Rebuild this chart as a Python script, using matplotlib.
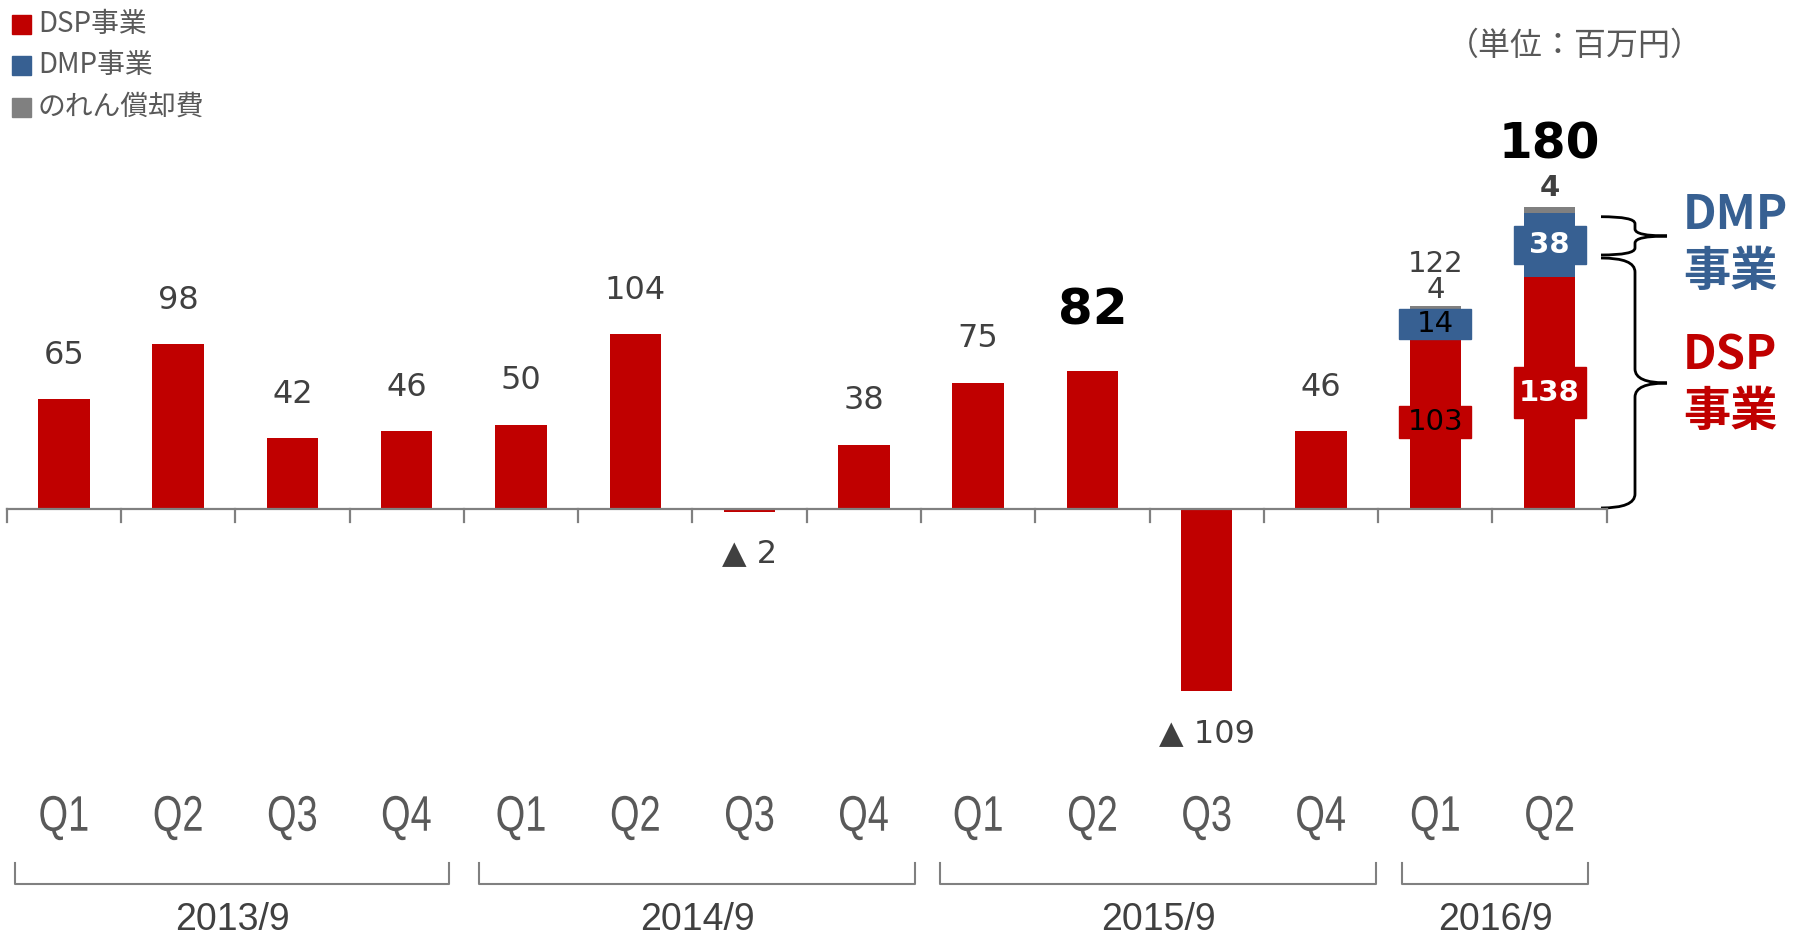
import matplotlib.pyplot as plt
from matplotlib.patches import Rectangle, PathPatch
from matplotlib.path import Path
from matplotlib.textpath import TextPath
from matplotlib.font_manager import FontProperties
from matplotlib.transforms import Affine2D, IdentityTransform

plt.rcParams['font.family'] = ['DejaVu Sans', 'Noto Sans CJK JP']

quarters = ["Q1", "Q2", "Q3", "Q4"] * 3 + ["Q1", "Q2"]
years = ["2013/9", "2014/9", "2015/9", "2016/9"]
dsp = [65, 98, 42, 46, 50, 104, -2, 38, 75, 82, -109, 46, 103, 138]
dmp = [0] * 12 + [14, 38]
goodwill = [0] * 12 + [4, 4]
totals = [65, 98, 42, 46, 50, 104, -2, 38, 75, 82, -109, 46, 122, 180]
legend_names = ["DSP事業", "DMP事業", "のれん償却費"]

RED = "#C00000"
BLUE = "#376092"
GREY = "#808080"
TXT = "#404040"
JP = ['Noto Sans CJK JP', 'DejaVu Sans']

# pixel -> data helpers (figure is 1798x936 px)
W, H = 1798, 936
PX, X0 = 114.29, 6.7
PY, Y0 = 1.677, 508.5


def dx(px):
    return (px - X0) / PX - 0.5


def dy(py):
    return (Y0 - py) / PY


fig = plt.figure(figsize=(W / 100, H / 100), dpi=100)
ax = fig.add_axes([0, 0, 1, 1])
ax.set_xlim(dx(0), dx(W))
ax.set_ylim(dy(H), dy(0))
ax.axis('off')

n = len(dsp)
x = list(range(n))
w = 0.45
ax.bar(x, dsp, w, color=RED, zorder=2)
ax.bar(x, dmp, w, bottom=dsp, color=BLUE, zorder=2)
stack = [a + b for a, b in zip(dsp, dmp)]
ax.bar(x, goodwill, w, bottom=stack, color=GREY, zorder=2)
tops = [a + b for a, b in zip(stack, goodwill)]

# axis line and ticks
ax.plot([-0.5, n - 0.5], [0, 0], color=GREY, lw=1.6, zorder=3)
for i in range(n + 1):
    ax.plot([i - 0.5, i - 0.5], [0, -13 / PY], color=GREY, lw=1.6, zorder=3)

# value labels for single bars
for i in range(12):
    v = dsp[i]
    if v < 0:
        ax.annotate("▲ " + str(abs(v)), (i, v), xytext=(0, -42), textcoords='offset pixels',
                    ha='center', va='center', fontsize=23, color=TXT)
    elif i == 9:
        ax.annotate(str(v), (i, v), xytext=(0, 60), textcoords='offset pixels',
                    ha='center', va='center', fontsize=36, fontweight='bold', color='black')
    else:
        ax.annotate(str(v), (i, v), xytext=(0, 44), textcoords='offset pixels',
                    ha='center', va='center', fontsize=23, color=TXT)

# stacked bars labels
bw = 72 / PX
for i, h1, h2, col, bold in [(12, 30, 32, 'black', 'normal'), (13, 38, 51, 'white', 'bold')]:
    yc = dsp[i] + dmp[i] / 2
    ax.add_patch(Rectangle((i - bw / 2, yc - h1 / PY / 2), bw, h1 / PY, color=BLUE, zorder=4))
    ax.text(i, yc, str(dmp[i]), ha='center', va='center', fontsize=21, color=col,
            fontweight=bold, zorder=5)
    yc = dsp[i] / 2
    ax.add_patch(Rectangle((i - bw / 2, yc - h2 / PY / 2), bw, h2 / PY, color=RED, zorder=4))
    ax.text(i, yc, str(dsp[i]), ha='center', va='center', fontsize=21, color=col,
            fontweight=bold, zorder=5)

ax.annotate(str(goodwill[12]), (12, tops[12]), xytext=(0, 16), textcoords='offset pixels',
            ha='center', va='center', fontsize=21, color=TXT)
ax.annotate(str(totals[12]), (12, tops[12]), xytext=(0, 42), textcoords='offset pixels',
            ha='center', va='center', fontsize=21, color=TXT)
ax.annotate(str(goodwill[13]), (13, tops[13]), xytext=(0, 19), textcoords='offset pixels',
            ha='center', va='center', fontsize=21, color=TXT, fontweight='bold')
ax.annotate(str(totals[13]), (13, tops[13]), xytext=(0, 62), textcoords='offset pixels',
            ha='center', va='center', fontsize=35, color='black', fontweight='bold')

# quarter labels: narrow sans, drawn as squeezed text paths
qfont = FontProperties(family='Liberation Sans')
for i, q in enumerate(quarters):
    tp = TextPath((0, 0), q, size=50, prop=qfont)
    ext = tp.get_extents()
    px_, py_ = ax.transData.transform((i, dy(818)))
    tr = (Affine2D().translate(-(ext.x0 + ext.x1) / 2, -(ext.y0 + ext.y1) / 2)
          .scale(0.76, 1).translate(px_, py_))
    ax.add_patch(PathPatch(tr.transform_path(tp), transform=IdentityTransform(),
                           color="#595959", lw=0))

# year brackets
spans = [(15, 449), (479, 915), (940, 1376), (1402, 1588)]
for (a, b), yr in zip(spans, years):
    ax.plot([dx(a), dx(a), dx(b), dx(b)], [dy(863), dy(884), dy(884), dy(863)],
            color=GREY, lw=1.5)
    ax.text((dx(a) + dx(b)) / 2, dy(920), yr, ha='center', va='center', fontsize=27,
            color=TXT, family='Liberation Sans')


# curly braces on the right
def brace(yt, yb, ym, x0=1601, xm=1635, xt=1667, r=10):
    pts = [(x0, yt), (xm, yt), (xm, yt + r), (xm, ym - r), (xm, ym), (xt, ym),
           (xm, ym), (xm, ym + r), (xm, yb - r), (xm, yb), (x0, yb)]
    codes = [Path.MOVETO, Path.CURVE3, Path.CURVE3, Path.LINETO, Path.CURVE3, Path.CURVE3,
             Path.CURVE3, Path.CURVE3, Path.LINETO, Path.CURVE3, Path.CURVE3]
    verts = [(dx(px), dy(py)) for px, py in pts]
    ax.add_patch(PathPatch(Path(verts, codes), fill=False, lw=2, color='black'))


brace(216.7, 255, 236, r=7)
brace(258, 508, 383, r=14)

for label, yc, col in [("DMP", 215, BLUE), ("事業", 272, BLUE), ("DSP", 355, RED), ("事業", 412, RED)]:
    ax.text(dx(1683), dy(yc), label, ha='left', va='center', fontsize=34, fontweight='bold',
            color=col, family=JP)

# legend
for k, (name, col) in enumerate(zip(legend_names, [RED, BLUE, GREY])):
    yc = [24, 65, 107][k]
    ax.add_patch(Rectangle((dx(12), dy(yc + 10)), 19 / PX, 19 / PY, color=col))
    ax.text(dx(38), dy(yc), name, ha='left', va='center', fontsize=20, color="#595959",
            family=JP)

ax.text(dx(1575), dy(46), "（単位：百万円）", ha='center', va='center', fontsize=23,
        color="#595959", family=JP)

fig.savefig("out.png", dpi=100)
